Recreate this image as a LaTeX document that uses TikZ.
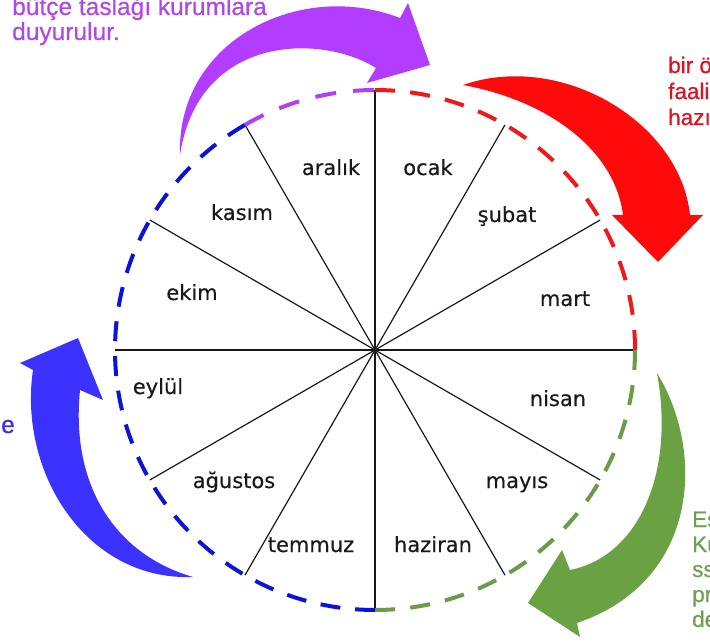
\documentclass[tikz,border=0pt]{standalone}
\usepackage{fontspec}
\usetikzlibrary{calc}
\setmainfont{Liberation Sans}
\newfontfamily\notefont[FakeBold=0.5]{Liberation Sans}
\newfontfamily\monthfont[FakeBold=0.3]{DejaVu Sans}
\definecolor{cpurple}{HTML}{B23CFF}
\definecolor{cred}{HTML}{FF0A0A}
\definecolor{cgreen}{HTML}{6AA142}
\definecolor{cblue}{HTML}{3C32FF}
\definecolor{dpurple}{HTML}{B040F0}
\definecolor{dred}{HTML}{F01818}
\definecolor{dgreen}{HTML}{6A9C48}
\definecolor{dblue}{HTML}{0A14D8}
\definecolor{tpurple}{HTML}{B048E8}
\definecolor{tred}{HTML}{E0101E}
\definecolor{tgreen}{HTML}{6E9E50}
\definecolor{tblue}{HTML}{3C2EE6}
\tikzset{
  spoke/.style={draw=black!90, line width=1.2pt},
  ring/.style={line width=4pt},
  month/.style={font=\monthfont\fontsize{21}{24}\selectfont, inner sep=0pt, anchor=base, text=black!90},
  note/.style={font=\notefont\fontsize{24.5}{26}\selectfont, inner sep=0pt, anchor=base west},
  smallnote/.style={note, font=\notefont\fontsize{22.5}{25}\selectfont}
}
\begin{document}
\begin{tikzpicture}[x=1pt,y=1pt]
\useasboundingbox (0,0) rectangle (710,641);
\coordinate (c) at (375,291);
% spokes
\foreach \i in {0,...,11} {
  \coordinate (p\i) at ($(c)+(\i*30:260)$);
}
\foreach \i in {0,...,11} {
  \draw[spoke] (c) -- (p\i);
}
% dashed ring in four colours
\draw[ring, dred, dash pattern=on 20pt off 15.31pt] (p3) arc[start angle=90, end angle=0, radius=260];
\draw[ring, dgreen, dash pattern=on 20pt off 15.31pt] (p0) arc[start angle=0, end angle=-90, radius=260];
\draw[ring, dblue, dash pattern=on 20pt off 14.77pt] (p9) arc[start angle=-90, end angle=-240, radius=260];
\draw[ring, dpurple, dash pattern=on 21pt off 17.03pt] (p4) arc[start angle=120, end angle=90, radius=260];
% month labels
\node[month] (ocak) at (428,466) {ocak};
\node[month] (subat) at (507,419) {şubat};
\node[month] (mart) at (565,335) {mart};
\node[month] (nisan) at (558,235) {nisan};
\node[month] (mayis) at (517,153) {mayıs};
\node[month] (haziran) at (433,89) {haziran};
\node[month] (temmuz) at (311,89) {temmuz};
\node[month] (agustos) at (234,153) {ağustos};
\node[month] (eylul) at (158,247) {eylül};
\node[month] (ekim) at (192,341) {ekim};
\node[month] (kasim) at (242,421) {kasım};
\node[month] (aralik) at (331,466) {aralık};
% big curved arrows
\fill[cpurple] (180,486) .. controls (176,600) and (300,662) .. (400,623)
  -- (408,638) -- (430,576) -- (367,558) -- (376,573)
  .. controls (320,608) and (198,606) .. (180,486) -- cycle;
\fill[cred] (463,556) .. controls (560,590) and (680,520) .. (690,426)
  -- (703,426) -- (658,379) -- (612,426) -- (623,426)
  .. controls (615,490) and (550,540) .. (463,556) -- cycle;
\fill[cgreen] (657,268) .. controls (705,190) and (700,60) .. (577,18)
  -- (580,4) -- (528,38) -- (562,91) -- (570,71)
  .. controls (640,85) and (675,170) .. (657,268) -- cycle;
\fill[cblue] (193,64) .. controls (85,60) and (18,170) .. (33,271)
  -- (20,278) -- (78,303) -- (103,241) -- (80,251)
  .. controls (70,150) and (120,85) .. (193,64) -- cycle;
% texts
\node[note, text=tpurple] (pt1) at (12,626) {bütçe taslağı kurumlara};
\node[note, text=tpurple] (pt2) at (12,601) {duyurulur.};
\node[smallnote, text=tred] (rt1) at (668,568) {bir ö};
\node[smallnote, text=tred] (rt2) at (668,542) {faali};
\node[smallnote, text=tred] (rt3) at (668,516) {hazı};
\node[note, text=tblue, anchor=base east] (bt1) at (15,208) {e};
\node[smallnote, text=tgreen] (gt1) at (692,114) {Es};
\node[smallnote, text=tgreen] (gt2) at (692,89) {Ku};
\node[smallnote, text=tgreen] (gt3) at (692,64) {ss};
\node[smallnote, text=tgreen] (gt4) at (692,39) {pr};
\node[smallnote, text=tgreen] (gt5) at (692,14) {de};
\end{tikzpicture}
\end{document}
